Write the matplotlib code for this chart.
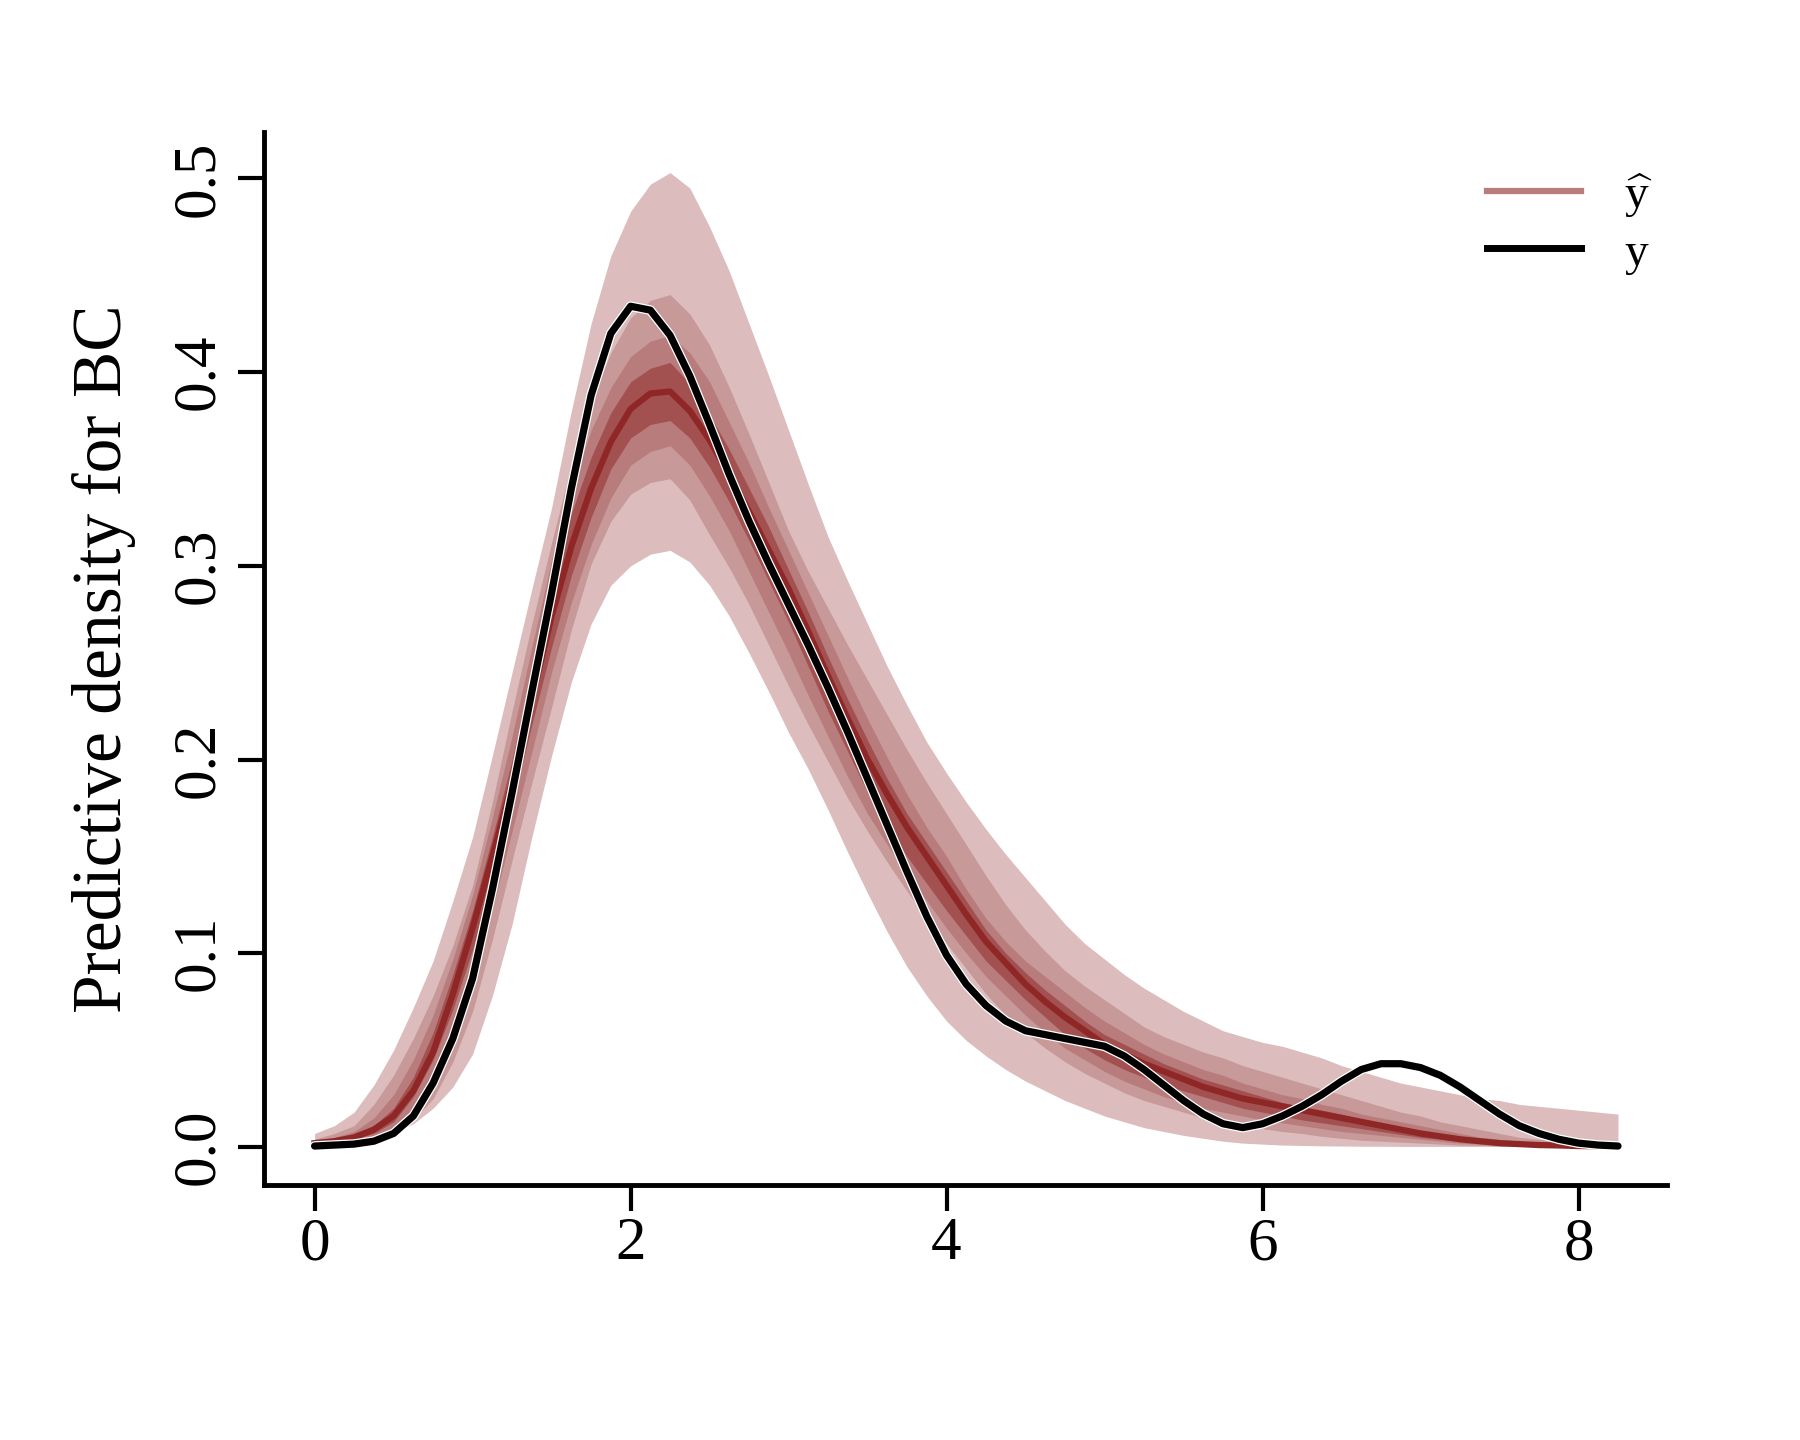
import matplotlib
matplotlib.use("Agg")
import matplotlib.pyplot as plt
import matplotlib.patheffects as pe
from matplotlib.lines import Line2D

plt.rcParams['font.family'] = 'Liberation Serif'
plt.rcParams['mathtext.fontset'] = 'custom'
plt.rcParams['mathtext.rm'] = 'Liberation Serif'

# griglia dei valori (BC)
x = [0.0, 0.125, 0.25, 0.375, 0.5, 0.625, 0.75, 0.875, 1.0, 1.125, 1.25, 1.375,
     1.5, 1.625, 1.75, 1.875, 2.0, 2.125, 2.25, 2.375, 2.5, 2.625, 2.75, 2.875,
     3.0, 3.125, 3.25, 3.375, 3.5, 3.625, 3.75, 3.875, 4.0, 4.125, 4.25, 4.375,
     4.5, 4.625, 4.75, 4.875, 5.0, 5.125, 5.25, 5.375, 5.5, 5.625, 5.75, 5.875,
     6.0, 6.125, 6.25, 6.375, 6.5, 6.625, 6.75, 6.875, 7.0, 7.125, 7.25, 7.375,
     7.5, 7.625, 7.75, 7.875, 8.0, 8.125, 8.25]

# densita osservata
dens_y = [0.0005, 0.001, 0.0015, 0.003, 0.007, 0.016, 0.033, 0.056, 0.087, 0.133,
          0.183, 0.235, 0.286, 0.340, 0.388, 0.420, 0.434, 0.432, 0.419, 0.398,
          0.373, 0.347, 0.323, 0.301, 0.280, 0.259, 0.237, 0.214, 0.190, 0.166,
          0.142, 0.119, 0.099, 0.084, 0.073, 0.065, 0.060, 0.058, 0.056, 0.054,
          0.052, 0.047, 0.040, 0.032, 0.024, 0.017, 0.012, 0.010, 0.012, 0.016,
          0.021, 0.027, 0.034, 0.040, 0.043, 0.043, 0.041, 0.037, 0.031, 0.024,
          0.017, 0.011, 0.007, 0.004, 0.002, 0.001, 0.0005]

# mediana delle densita predittive
mediana = [0.002, 0.003, 0.005, 0.009, 0.016, 0.029, 0.049, 0.079, 0.113, 0.150,
           0.188, 0.231, 0.274, 0.310, 0.340, 0.364, 0.381, 0.389, 0.390, 0.380,
           0.365, 0.347, 0.328, 0.308, 0.288, 0.266, 0.243, 0.221, 0.200, 0.182,
           0.165, 0.150, 0.135, 0.120, 0.106, 0.095, 0.084, 0.075, 0.067, 0.060,
           0.053, 0.048, 0.043, 0.039, 0.035, 0.031, 0.028, 0.025, 0.023, 0.021,
           0.019, 0.017, 0.015, 0.013, 0.011, 0.009, 0.007, 0.0055, 0.004, 0.003,
           0.002, 0.0015, 0.001, 0.0008, 0.0005, 0.0004, 0.0003]

# intervalli (dal piu largo al piu stretto)
inf_1 = [0.001, 0.0015, 0.002, 0.004, 0.007, 0.012, 0.020, 0.031, 0.048, 0.078,
         0.115, 0.160, 0.202, 0.240, 0.270, 0.290, 0.300, 0.306, 0.308, 0.302,
         0.290, 0.274, 0.255, 0.235, 0.214, 0.195, 0.174, 0.152, 0.131, 0.111,
         0.093, 0.078, 0.065, 0.055, 0.047, 0.040, 0.034, 0.029, 0.024, 0.020,
         0.016, 0.013, 0.010, 0.008, 0.006, 0.0045, 0.003, 0.002, 0.0015, 0.001,
         0.0008, 0.0006, 0.0005, 0.0004, 0.0004, 0.0003, 0.0003, 0.0003, 0.0003,
         0.0003, 0.0003, 0.0003, 0.0003, 0.0003, 0.0003, 0.0003, 0.0003]
sup_1 = [0.007, 0.011, 0.018, 0.032, 0.050, 0.072, 0.096, 0.127, 0.160, 0.202,
         0.245, 0.288, 0.330, 0.380, 0.425, 0.460, 0.483, 0.497, 0.503, 0.495,
         0.475, 0.452, 0.425, 0.398, 0.370, 0.342, 0.315, 0.292, 0.270, 0.248,
         0.228, 0.209, 0.193, 0.178, 0.164, 0.151, 0.139, 0.127, 0.115, 0.105,
         0.097, 0.089, 0.082, 0.076, 0.070, 0.065, 0.060, 0.057, 0.054, 0.052,
         0.049, 0.046, 0.042, 0.039, 0.036, 0.033, 0.031, 0.029, 0.027, 0.025,
         0.024, 0.022, 0.021, 0.020, 0.019, 0.018, 0.017]

inf_2 = [0.001, 0.0015, 0.002, 0.004, 0.008, 0.014, 0.025, 0.044, 0.070, 0.107,
         0.148, 0.188, 0.227, 0.267, 0.301, 0.323, 0.337, 0.343, 0.345, 0.334,
         0.316, 0.299, 0.280, 0.259, 0.238, 0.218, 0.199, 0.180, 0.163, 0.147,
         0.132, 0.118, 0.105, 0.092, 0.079, 0.068, 0.059, 0.051, 0.044, 0.038,
         0.033, 0.028, 0.024, 0.021, 0.018, 0.015, 0.013, 0.011, 0.0095, 0.008,
         0.007, 0.0055, 0.0045, 0.0035, 0.003, 0.0025, 0.002, 0.0015, 0.001,
         0.0008, 0.0005, 0.0005, 0.0004, 0.0004, 0.0003, 0.0002, 0.0002]
sup_2 = [0.004, 0.007, 0.011, 0.022, 0.037, 0.056, 0.078, 0.104, 0.135, 0.178,
         0.225, 0.270, 0.312, 0.352, 0.385, 0.410, 0.428, 0.437, 0.440, 0.430,
         0.414, 0.392, 0.368, 0.343, 0.318, 0.297, 0.278, 0.259, 0.241, 0.223,
         0.205, 0.188, 0.172, 0.156, 0.140, 0.125, 0.112, 0.101, 0.091, 0.083,
         0.076, 0.069, 0.062, 0.057, 0.053, 0.049, 0.046, 0.042, 0.039, 0.036,
         0.033, 0.030, 0.027, 0.024, 0.021, 0.018, 0.016, 0.013, 0.011, 0.009,
         0.007, 0.005, 0.004, 0.003, 0.002, 0.0015, 0.001]

inf_3 = [0.001, 0.002, 0.003, 0.006, 0.010, 0.017, 0.031, 0.055, 0.085, 0.123,
         0.163, 0.204, 0.245, 0.281, 0.311, 0.335, 0.352, 0.359, 0.362, 0.352,
         0.336, 0.318, 0.297, 0.276, 0.255, 0.233, 0.212, 0.191, 0.172, 0.156,
         0.141, 0.127, 0.113, 0.100, 0.088, 0.078, 0.068, 0.059, 0.051, 0.045,
         0.039, 0.034, 0.030, 0.026, 0.023, 0.020, 0.018, 0.016, 0.014, 0.0125,
         0.011, 0.0095, 0.008, 0.007, 0.006, 0.005, 0.004, 0.003, 0.002, 0.0015,
         0.001, 0.0008, 0.0005, 0.0004, 0.0003, 0.0002, 0.0002]
sup_3 = [0.003, 0.005, 0.008, 0.015, 0.027, 0.045, 0.068, 0.097, 0.130, 0.170,
         0.212, 0.258, 0.303, 0.340, 0.370, 0.392, 0.408, 0.416, 0.419, 0.410,
         0.395, 0.374, 0.353, 0.330, 0.308, 0.286, 0.264, 0.242, 0.221, 0.201,
         0.182, 0.165, 0.150, 0.133, 0.118, 0.106, 0.096, 0.088, 0.080, 0.072,
         0.065, 0.059, 0.053, 0.048, 0.044, 0.040, 0.037, 0.033, 0.030, 0.027,
         0.025, 0.022, 0.020, 0.017, 0.015, 0.013, 0.011, 0.009, 0.007, 0.005,
         0.004, 0.003, 0.002, 0.0015, 0.001, 0.0007, 0.0005]

inf_4 = [0.0015, 0.0025, 0.004, 0.007, 0.013, 0.026, 0.045, 0.071, 0.102, 0.138,
         0.176, 0.218, 0.258, 0.295, 0.325, 0.350, 0.366, 0.373, 0.375, 0.366,
         0.351, 0.333, 0.313, 0.292, 0.271, 0.248, 0.225, 0.204, 0.183, 0.166,
         0.150, 0.136, 0.122, 0.109, 0.096, 0.086, 0.076, 0.067, 0.058, 0.051,
         0.045, 0.040, 0.036, 0.032, 0.029, 0.026, 0.023, 0.020, 0.018, 0.016,
         0.014, 0.0125, 0.011, 0.0095, 0.008, 0.0065, 0.005, 0.004, 0.003, 0.002,
         0.0015, 0.001, 0.0008, 0.0006, 0.0004, 0.0003, 0.0002]
sup_4 = [0.0025, 0.004, 0.006, 0.011, 0.020, 0.036, 0.059, 0.089, 0.122, 0.160,
         0.200, 0.245, 0.290, 0.327, 0.356, 0.379, 0.395, 0.402, 0.405, 0.394,
         0.378, 0.360, 0.340, 0.320, 0.298, 0.276, 0.253, 0.231, 0.210, 0.190,
         0.172, 0.157, 0.142, 0.127, 0.112, 0.100, 0.090, 0.081, 0.073, 0.065,
         0.058, 0.053, 0.048, 0.043, 0.039, 0.035, 0.032, 0.029, 0.026, 0.023,
         0.021, 0.019, 0.017, 0.0145, 0.012, 0.010, 0.008, 0.0065, 0.005, 0.004,
         0.003, 0.002, 0.0015, 0.001, 0.0008, 0.0006, 0.0004]

# colori
c_light = '#DCBCBC'
c_light_hl = '#C79999'
c_mid = '#B97C7C'
c_mid_hl = '#A25050'
c_dark = '#8F2727'

fig = plt.figure(figsize=(18, 14.4), dpi=100)
ax = fig.add_axes([0.1467, 0.1771, 0.7794, 0.7313])

ax.fill_between(x, inf_1, sup_1, color=c_light, linewidth=0)
ax.fill_between(x, inf_2, sup_2, color=c_light_hl, linewidth=0)
ax.fill_between(x, inf_3, sup_3, color=c_mid, linewidth=0)
ax.fill_between(x, inf_4, sup_4, color=c_mid_hl, linewidth=0)
ax.plot(x, mediana, color=c_dark, linewidth=4.5)
ax.plot(x, dens_y, color='black', linewidth=5.2, solid_capstyle='round',
        solid_joinstyle='round',
        path_effects=[pe.withStroke(linewidth=7, foreground='white')])

ax.set_xlim(-0.32, 8.56)
ax.set_ylim(-0.0196, 0.524)
ax.set_xticks([0, 2, 4, 6, 8])
ax.set_yticks([0.0, 0.1, 0.2, 0.3, 0.4, 0.5])
ax.set_yticklabels(['0.0', '0.1', '0.2', '0.3', '0.4', '0.5'],
                   rotation=90, va='center')

for s in ['top', 'right']:
    ax.spines[s].set_visible(False)
for s in ['left', 'bottom']:
    ax.spines[s].set_linewidth(3.5)
    ax.spines[s].set_capstyle('projecting')

ax.tick_params(axis='both', length=19, width=3, labelsize=44, direction='out')
ax.tick_params(axis='x', pad=4)
ax.tick_params(axis='y', pad=8)

ax.set_ylabel('Predictive density for BC', fontsize=50)
ax.yaxis.set_label_coords(-0.091, 0.5)

handles = [Line2D([], [], color=c_mid, linewidth=4.5),
           Line2D([], [], color='black', linewidth=5)]
ax.legend(handles, [r'$\widehat{\mathrm{y}}$', 'y'], loc='upper left',
          bbox_to_anchor=(1487 / 1800, 1 - 171 / 1440),
          bbox_transform=fig.transFigure, frameon=False, fontsize=34,
          handlelength=2.0, handletextpad=0.9, borderpad=0,
          borderaxespad=0, labelspacing=0.26)

fig.savefig('out.png', dpi=100)
